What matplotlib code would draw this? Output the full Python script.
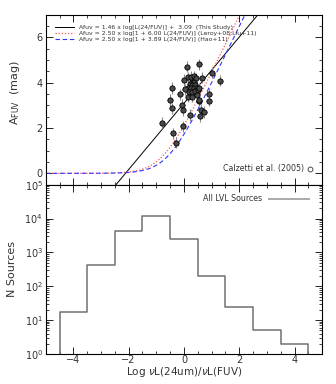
import numpy as np
import matplotlib
matplotlib.use("Agg")
import matplotlib.pyplot as plt
from matplotlib.lines import Line2D
from matplotlib.ticker import MultipleLocator, LogLocator, NullFormatter

# ---------------- data ----------------
# scatter: log L(24/FUV) vs A_FUV
pts_x = [-0.78, -0.51, -0.44, -0.42, -0.14, -0.08, -0.05, 0.00, 0.10, 0.54,
         -0.05, 0.22, 0.58, 0.62, 0.72, 0.91, 0.91, 1.02, 1.30, 0.64,
         -0.41, -0.30, 0.55,
         0.16, 0.28, 0.37, 0.22, 0.30, 0.40, 0.16, 0.25, 0.35, 0.46,
         0.19, 0.30, 0.40, 0.52, 0.16, 0.46, 0.03, 0.28, 0.53,
         0.24, 0.35, 0.43, 0.54]
pts_y = [2.24, 3.23, 2.86, 3.77, 3.48, 3.01, 2.79, 4.12, 4.70, 4.81,
         2.08, 2.57, 2.52, 2.80, 2.70, 3.50, 3.20, 4.44, 4.08, 4.22,
         1.76, 1.36, 3.18,
         4.23, 4.04, 4.01, 3.92, 3.89, 3.89, 3.77, 3.75, 3.77, 3.77,
         3.60, 3.60, 3.63, 3.67, 3.38, 3.45, 3.70, 3.38, 3.23,
         4.25, 4.28, 4.19, 3.75]
pts_xerr = 0.10
pts_yerr = 0.25

# fit relations (coefficients from legend)
this_slope, this_icpt = 1.46, 3.09
leroy_a, leroy_b = 2.50, 6.00
hao_a, hao_b = 2.50, 3.89

legend_labels = [
    "Afuv = 1.46 x log[L(24/FUV)] +  3.09  (This Study)",
    "Afuv = 2.50 x log[1 + 6.00 L(24/FUV)] (Leroy+08,Liu+11)",
    "Afuv = 2.50 x log[1 + 3.89 L(24/FUV)] (Hao+11)",
]

# histogram of all LVL sources
hist_edges = [-4.5, -3.5, -2.5, -1.5, -0.5, 0.5, 1.5, 2.5, 3.5, 4.5]
hist_counts = [18, 440, 4300, 12300, 2500, 200, 24, 5, 2]

# ---------------- figure ----------------
TXT = "#333333"
plt.rcParams.update({
    "font.family": "DejaVu Sans",
    "font.size": 7,
    "text.color": TXT,
    "axes.labelcolor": TXT,
    "xtick.color": "#222222",
    "ytick.color": "#222222",
    "xtick.labelcolor": TXT,
    "ytick.labelcolor": TXT,
    "axes.linewidth": 0.8,
})

fig = plt.figure(figsize=(3.36, 3.84), dpi=100)
L, R = 0.136, 0.959
ax1 = fig.add_axes([L, 0.519, R - L, 0.962 - 0.519])
ax2 = fig.add_axes([L, 0.078, R - L, 0.519 - 0.078])

def style(ax):
    ax.tick_params(which="both", direction="in", top=True, right=True,
                   labelsize=7, pad=2)
    ax.tick_params(which="major", length=5, width=0.7)
    ax.tick_params(which="minor", length=2.5, width=0.6)

# ---- top panel ----
xx = np.linspace(-5, 5, 500)
ax1.plot(xx, this_slope * xx + this_icpt, color="black", lw=0.7)
ax1.plot(xx, leroy_a * np.log10(1 + leroy_b * 10**xx), color="#ff5555",
         lw=0.9, linestyle=(0, (1, 1.5)))
ax1.plot(xx, hao_a * np.log10(1 + hao_b * 10**xx), color="#3333ff",
         lw=0.8, linestyle=(0, (4, 2.5)))

ax1.errorbar(pts_x, pts_y, xerr=pts_xerr, yerr=pts_yerr, fmt="o",
             ms=3.8, mfc="#4a4a4a", mec="black", mew=0.6,
             ecolor="#8a8a8a", elinewidth=0.8, capsize=0, zorder=5)

ax1.set_xlim(-5, 5)
ax1.set_ylim(-0.5, 7)
ax1.xaxis.set_major_locator(MultipleLocator(2))
ax1.xaxis.set_minor_locator(MultipleLocator(0.5))
ax1.yaxis.set_major_locator(MultipleLocator(2))
ax1.yaxis.set_minor_locator(MultipleLocator(0.5))
ax1.xaxis.set_major_formatter(NullFormatter())
style(ax1)
ax1.set_ylabel("A$_{\\rm FUV}$  (mag)", fontsize=8, labelpad=6)
ax1.yaxis.set_label_coords(-0.085, 0.54)

handles = [
    Line2D([], [], color="black", lw=0.7),
    Line2D([], [], color="#ff5555", lw=0.9, linestyle=(0, (1, 1.5))),
    Line2D([], [], color="#3333ff", lw=0.8, linestyle=(0, (4, 2.5))),
]
leg1 = ax1.legend(handles, legend_labels, loc="upper left", fontsize=4.4,
                  frameon=False, handlelength=3.0, handletextpad=0.9,
                  labelspacing=0.15, borderaxespad=1.2,
                  bbox_to_anchor=(0.0, 1.0))
ax1.add_artist(leg1)

calz = Line2D([], [], color="#333333", marker="o", mfc="none", lw=0,
              ms=3.5, mew=0.6)
ax1.legend([calz], ["Calzetti et al. (2005)"], loc="lower right",
           frameon=False, fontsize=5.7, markerfirst=False,
           handlelength=1.0, handletextpad=0.3, borderaxespad=0.6,
           bbox_to_anchor=(1.0, 0.02))

# ---- bottom panel ----
step_x = np.repeat(hist_edges, 2)
step_y = np.concatenate([[1e-3], np.repeat(hist_counts, 2), [1e-3]])
ax2.plot(step_x, step_y, color="#707070", lw=1.1)

ax2.set_yscale("log")
ax2.set_xlim(-5, 5)
ax2.set_ylim(1, 1e5)
ax2.xaxis.set_major_locator(MultipleLocator(2))
ax2.xaxis.set_minor_locator(MultipleLocator(0.5))
ax2.yaxis.set_major_locator(LogLocator(base=10, numticks=10))
ax2.yaxis.set_minor_locator(LogLocator(base=10, subs=np.arange(2, 10), numticks=20))
ax2.yaxis.set_minor_formatter(NullFormatter())
style(ax2)
ax2.tick_params(axis="x", pad=1)
ax2.set_ylabel("N Sources", fontsize=8, labelpad=5)
ax2.set_xlabel("Log $\\nu$L(24um)/$\\nu$L(FUV)", fontsize=7.5, labelpad=0)

lvl = Line2D([], [], color="#aaaaaa", lw=1.4)
ax2.legend([lvl], ["All LVL Sources"], loc="upper right", frameon=False,
           fontsize=5.7, markerfirst=False, handlelength=5.0,
           handletextpad=0.9, borderaxespad=0.6, bbox_to_anchor=(0.98, 0.99))

fig.savefig("out.png", dpi=100)
